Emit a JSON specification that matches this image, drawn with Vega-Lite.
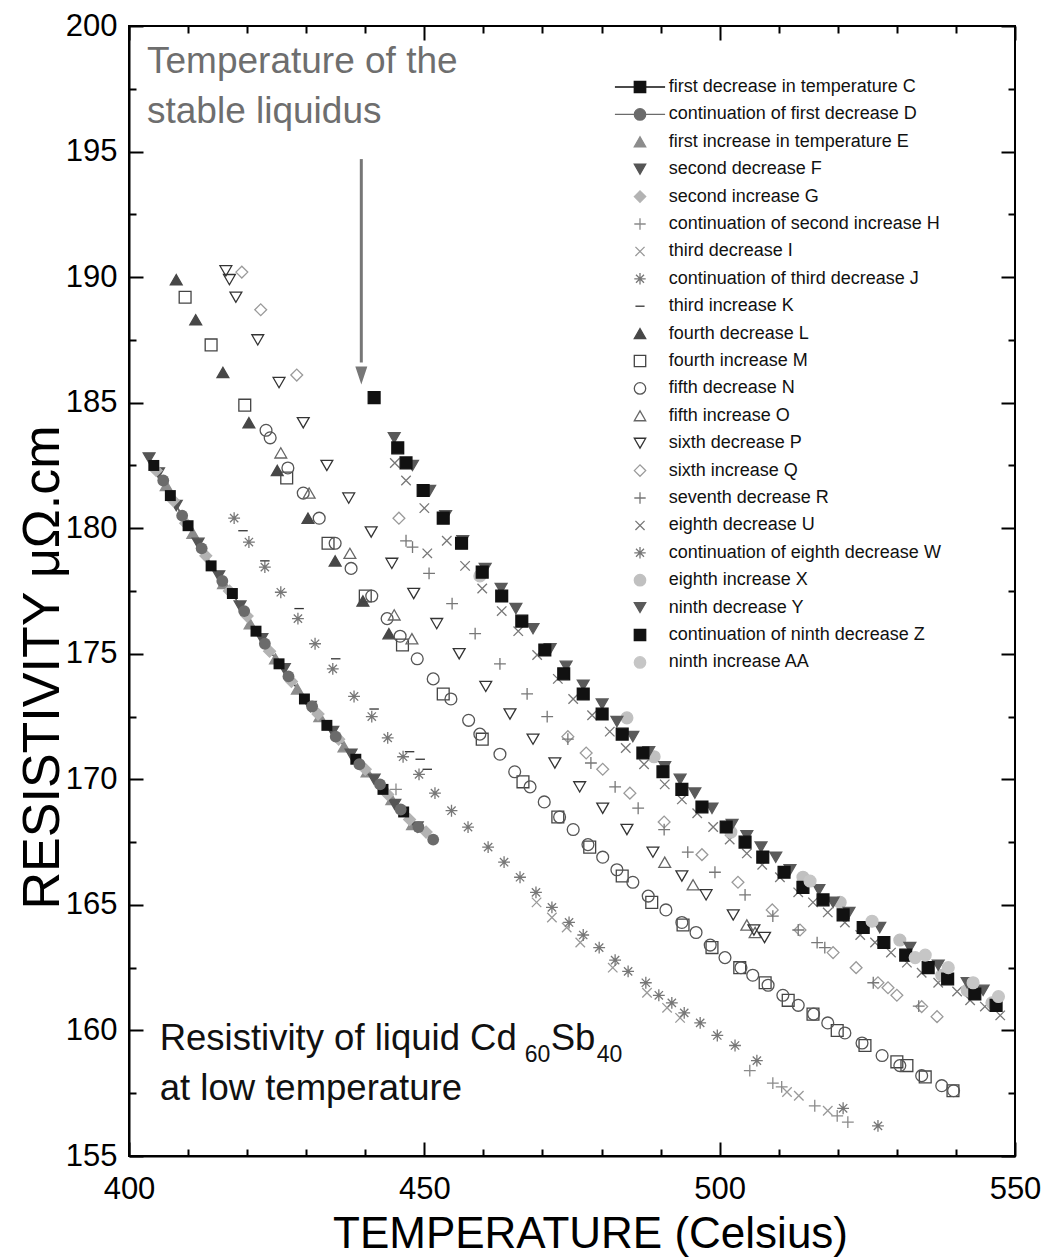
{
 "$schema": "https://vega.github.io/schema/vega-lite/v6.json",
 "width": 886, "height": 1130,
 "autosize": {"type": "none"},
 "padding": {"left": 129, "top": 26, "right": 32, "bottom": 104},
 "background": "white",
 "config": {"view": {"stroke": "#000", "strokeWidth": 2}, "font": "Liberation Sans"},
 "data": {"values": [
  {"s":"C","x":404.2,"y":182.5},{"s":"C","x":407.0,"y":181.3},{"s":"C","x":410.0,"y":180.1},{"s":"C","x":413.9,"y":178.5},{"s":"C","x":417.5,"y":177.4},{"s":"C","x":421.5,"y":175.9},{"s":"C","x":425.4,"y":174.6},{"s":"C","x":429.7,"y":173.2},{"s":"C","x":433.5,"y":172.15},{"s":"C","x":438.4,"y":170.8},{"s":"C","x":443.0,"y":169.6},{"s":"C","x":446.5,"y":168.7},
  {"s":"D","x":405.8,"y":181.9},{"s":"D","x":409.0,"y":180.5},{"s":"D","x":412.3,"y":179.2},{"s":"D","x":415.8,"y":177.9},{"s":"D","x":419.5,"y":176.7},{"s":"D","x":423.0,"y":175.4},{"s":"D","x":427.0,"y":174.1},{"s":"D","x":431.0,"y":172.9},{"s":"D","x":435.0,"y":171.7},{"s":"D","x":439.0,"y":170.6},{"s":"D","x":442.5,"y":169.8},{"s":"D","x":446.0,"y":168.8},{"s":"D","x":449.0,"y":168.1},{"s":"D","x":451.5,"y":167.6},
  {"s":"E","x":406.3,"y":181.7},{"s":"E","x":410.8,"y":179.8},{"s":"E","x":416.0,"y":177.8},{"s":"E","x":420.5,"y":176.2},{"s":"E","x":424.8,"y":174.8},{"s":"E","x":428.5,"y":173.6},{"s":"E","x":432.3,"y":172.5},{"s":"E","x":436.4,"y":171.3},{"s":"E","x":440.3,"y":170.3},{"s":"E","x":444.5,"y":169.2},{"s":"E","x":448.0,"y":168.2},
  {"s":"F","x":403.4,"y":182.8},{"s":"F","x":405.0,"y":182.2},{"s":"F","x":408.0,"y":180.9},{"s":"F","x":411.7,"y":179.4},{"s":"F","x":415.2,"y":178.1},{"s":"F","x":418.8,"y":176.9},{"s":"F","x":422.5,"y":175.6},{"s":"F","x":426.3,"y":174.4},{"s":"F","x":430.7,"y":172.9},{"s":"F","x":434.5,"y":171.9},{"s":"F","x":437.6,"y":171.0},{"s":"F","x":441.5,"y":170.0},{"s":"F","x":445.0,"y":169.0},{"s":"F","x":448.8,"y":168.1},
  {"s":"G","x":404.6,"y":182.3},{"s":"G","x":407.5,"y":181.1},{"s":"G","x":409.6,"y":180.2},{"s":"G","x":413.0,"y":178.9},{"s":"G","x":417.0,"y":177.5},{"s":"G","x":420.0,"y":176.5},{"s":"G","x":423.8,"y":175.1},{"s":"G","x":427.5,"y":173.9},{"s":"G","x":432.0,"y":172.6},{"s":"G","x":435.5,"y":171.6},{"s":"G","x":440.0,"y":170.4},{"s":"G","x":443.8,"y":169.4},{"s":"G","x":447.5,"y":168.4},{"s":"G","x":450.3,"y":167.9},
  {"s":"H","x":445.2,"y":169.6},{"s":"H","x":505.1,"y":158.4},{"s":"H","x":509.0,"y":157.9},{"s":"H","x":510.5,"y":157.75},{"s":"H","x":516.1,"y":157.0},{"s":"H","x":519.9,"y":156.6},{"s":"H","x":521.7,"y":156.35},
  {"s":"I","x":469.0,"y":165.1},{"s":"I","x":471.6,"y":164.5},{"s":"I","x":474.1,"y":164.1},{"s":"I","x":476.4,"y":163.5},{"s":"I","x":481.9,"y":162.5},{"s":"I","x":487.7,"y":161.5},{"s":"I","x":491.1,"y":160.9},{"s":"I","x":493.3,"y":160.5},{"s":"I","x":511.4,"y":157.55},{"s":"I","x":513.4,"y":157.4},{"s":"I","x":518.3,"y":156.8},
  {"s":"J","x":417.8,"y":180.4},{"s":"J","x":420.3,"y":179.45},{"s":"J","x":423.0,"y":178.45},{"s":"J","x":425.7,"y":177.45},{"s":"J","x":428.6,"y":176.4},{"s":"J","x":431.5,"y":175.4},{"s":"J","x":434.5,"y":174.4},{"s":"J","x":438.1,"y":173.3},{"s":"J","x":441.1,"y":172.5},{"s":"J","x":443.8,"y":171.65},{"s":"J","x":446.4,"y":170.9},{"s":"J","x":449.1,"y":170.2},{"s":"J","x":451.8,"y":169.45},{"s":"J","x":454.6,"y":168.75},{"s":"J","x":457.4,"y":168.1},
  {"s":"K","x":419.3,"y":179.9},{"s":"K","x":423.0,"y":178.7},{"s":"K","x":428.8,"y":176.8},{"s":"K","x":435.0,"y":174.8},{"s":"K","x":441.5,"y":172.8},{"s":"K","x":447.5,"y":171.1},{"s":"K","x":449.3,"y":170.8},{"s":"K","x":450.5,"y":170.4},
  {"s":"L","x":408.0,"y":189.9},{"s":"L","x":411.3,"y":188.3},{"s":"L","x":415.9,"y":186.2},{"s":"L","x":420.3,"y":184.2},{"s":"L","x":425.1,"y":182.3},{"s":"L","x":430.3,"y":180.4},{"s":"L","x":434.9,"y":178.7},{"s":"L","x":439.6,"y":177.1},{"s":"L","x":444.0,"y":175.8},
  {"s":"M","x":409.5,"y":189.2},{"s":"M","x":413.9,"y":187.3},{"s":"M","x":419.6,"y":184.9},{"s":"M","x":426.7,"y":182.0},{"s":"M","x":433.7,"y":179.4},{"s":"M","x":440.0,"y":177.3},{"s":"M","x":446.3,"y":175.35},{"s":"M","x":453.2,"y":173.4},{"s":"M","x":459.8,"y":171.6},{"s":"M","x":466.7,"y":169.9},{"s":"M","x":472.6,"y":168.5},{"s":"M","x":478.0,"y":167.3},{"s":"M","x":483.5,"y":166.15},{"s":"M","x":488.5,"y":165.1},{"s":"M","x":493.8,"y":164.2},{"s":"M","x":498.7,"y":163.3},{"s":"M","x":503.4,"y":162.5},{"s":"M","x":507.7,"y":161.9},{"s":"M","x":511.6,"y":161.2},{"s":"M","x":515.8,"y":160.65},{"s":"M","x":519.9,"y":160.0},{"s":"M","x":524.6,"y":159.4},{"s":"M","x":530.0,"y":158.75},{"s":"M","x":531.7,"y":158.6},{"s":"M","x":534.8,"y":158.15},{"s":"M","x":539.5,"y":157.6},
  {"s":"N","x":423.2,"y":183.9},{"s":"N","x":423.9,"y":183.6},{"s":"N","x":426.9,"y":182.4},{"s":"N","x":429.5,"y":181.4},{"s":"N","x":432.2,"y":180.4},{"s":"N","x":434.9,"y":179.4},{"s":"N","x":437.6,"y":178.4},{"s":"N","x":441.1,"y":177.3},{"s":"N","x":443.7,"y":176.4},{"s":"N","x":445.9,"y":175.7},{"s":"N","x":448.8,"y":174.8},{"s":"N","x":451.5,"y":174.0},{"s":"N","x":454.5,"y":173.2},{"s":"N","x":457.5,"y":172.35},{"s":"N","x":459.4,"y":171.8},{"s":"N","x":462.8,"y":171.0},{"s":"N","x":465.3,"y":170.3},{"s":"N","x":467.9,"y":169.7},{"s":"N","x":470.3,"y":169.1},{"s":"N","x":472.9,"y":168.5},{"s":"N","x":475.2,"y":168.0},{"s":"N","x":477.7,"y":167.4},{"s":"N","x":480.2,"y":166.9},{"s":"N","x":482.6,"y":166.4},{"s":"N","x":485.3,"y":165.9},{"s":"N","x":487.9,"y":165.35},{"s":"N","x":490.9,"y":164.8},{"s":"N","x":493.6,"y":164.3},{"s":"N","x":496.0,"y":163.9},{"s":"N","x":498.4,"y":163.4},{"s":"N","x":500.9,"y":162.9},{"s":"N","x":503.6,"y":162.5},{"s":"N","x":505.6,"y":162.2},{"s":"N","x":508.2,"y":161.8},{"s":"N","x":510.7,"y":161.4},{"s":"N","x":513.3,"y":161.0},{"s":"N","x":515.9,"y":160.65},{"s":"N","x":518.3,"y":160.3},{"s":"N","x":521.2,"y":159.9},{"s":"N","x":524.1,"y":159.5},{"s":"N","x":527.5,"y":159.0},{"s":"N","x":530.5,"y":158.6},{"s":"N","x":534.2,"y":158.2},{"s":"N","x":537.6,"y":157.8},{"s":"N","x":539.6,"y":157.6},
  {"s":"O","x":425.7,"y":183.0},{"s":"O","x":430.5,"y":181.4},{"s":"O","x":437.4,"y":179.0},{"s":"O","x":444.9,"y":176.55},{"s":"O","x":447.9,"y":175.6},{"s":"O","x":490.7,"y":166.7},{"s":"O","x":495.5,"y":165.8},{"s":"O","x":504.6,"y":164.2},{"s":"O","x":506.0,"y":163.9},
  {"s":"P","x":416.4,"y":190.25},{"s":"P","x":417.0,"y":189.9},{"s":"P","x":418.1,"y":189.2},{"s":"P","x":421.8,"y":187.5},{"s":"P","x":425.4,"y":185.8},{"s":"P","x":429.5,"y":184.2},{"s":"P","x":433.5,"y":182.5},{"s":"P","x":437.2,"y":181.2},{"s":"P","x":441.0,"y":179.85},{"s":"P","x":444.5,"y":178.6},{"s":"P","x":448.2,"y":177.4},{"s":"P","x":452.1,"y":176.2},{"s":"P","x":455.9,"y":175.0},{"s":"P","x":460.4,"y":173.7},{"s":"P","x":464.5,"y":172.6},{"s":"P","x":468.4,"y":171.6},{"s":"P","x":472.1,"y":170.65},{"s":"P","x":476.3,"y":169.7},{"s":"P","x":480.2,"y":168.85},{"s":"P","x":484.3,"y":168.0},{"s":"P","x":488.7,"y":167.1},{"s":"P","x":493.6,"y":166.15},{"s":"P","x":497.7,"y":165.4},{"s":"P","x":502.3,"y":164.6},{"s":"P","x":505.8,"y":164.0},{"s":"P","x":507.6,"y":163.7},
  {"s":"Q","x":419.1,"y":190.2},{"s":"Q","x":422.3,"y":188.7},{"s":"Q","x":428.4,"y":186.1},{"s":"Q","x":445.7,"y":180.4},{"s":"Q","x":474.3,"y":171.7},{"s":"Q","x":477.4,"y":171.05},{"s":"Q","x":480.2,"y":170.4},{"s":"Q","x":484.8,"y":169.45},{"s":"Q","x":490.6,"y":168.3},{"s":"Q","x":497.0,"y":167.0},{"s":"Q","x":503.1,"y":165.9},{"s":"Q","x":508.9,"y":164.8},{"s":"Q","x":513.6,"y":164.0},{"s":"Q","x":519.2,"y":163.1},{"s":"Q","x":523.1,"y":162.5},{"s":"Q","x":526.8,"y":161.9},{"s":"Q","x":528.5,"y":161.7},{"s":"Q","x":530.0,"y":161.4},{"s":"Q","x":534.2,"y":160.95},{"s":"Q","x":536.8,"y":160.55},
  {"s":"R","x":446.9,"y":179.5},{"s":"R","x":448.0,"y":179.25},{"s":"R","x":450.8,"y":178.2},{"s":"R","x":454.7,"y":177.0},{"s":"R","x":458.6,"y":175.8},{"s":"R","x":462.8,"y":174.6},{"s":"R","x":467.4,"y":173.4},{"s":"R","x":470.8,"y":172.5},{"s":"R","x":474.3,"y":171.6},{"s":"R","x":478.2,"y":170.65},{"s":"R","x":482.3,"y":169.7},{"s":"R","x":486.2,"y":168.85},{"s":"R","x":490.6,"y":168.0},{"s":"R","x":494.6,"y":167.1},{"s":"R","x":499.2,"y":166.3},{"s":"R","x":504.3,"y":165.4},{"s":"R","x":509.0,"y":164.55},{"s":"R","x":513.3,"y":164.0},{"s":"R","x":516.5,"y":163.5},{"s":"R","x":517.8,"y":163.3},{"s":"R","x":526.0,"y":161.9},{"s":"R","x":533.7,"y":160.97},
  {"s":"U","x":445.0,"y":182.6},{"s":"U","x":446.9,"y":181.9},{"s":"U","x":450.0,"y":180.8},{"s":"U","x":453.8,"y":179.5},{"s":"U","x":450.5,"y":179.0},{"s":"U","x":456.9,"y":178.5},{"s":"U","x":459.8,"y":177.6},{"s":"U","x":463.1,"y":176.7},{"s":"U","x":465.9,"y":175.9},{"s":"U","x":469.1,"y":174.95},{"s":"U","x":472.6,"y":174.0},{"s":"U","x":475.2,"y":173.2},{"s":"U","x":478.4,"y":172.55},{"s":"U","x":481.4,"y":171.9},{"s":"U","x":484.1,"y":171.25},{"s":"U","x":487.2,"y":170.6},{"s":"U","x":490.7,"y":169.8},{"s":"U","x":493.6,"y":169.2},{"s":"U","x":496.2,"y":168.65},{"s":"U","x":498.9,"y":168.1},{"s":"U","x":501.7,"y":167.6},{"s":"U","x":504.6,"y":167.05},{"s":"U","x":507.2,"y":166.6},{"s":"U","x":510.2,"y":166.1},{"s":"U","x":513.3,"y":165.5},{"s":"U","x":515.8,"y":165.1},{"s":"U","x":518.3,"y":164.7},{"s":"U","x":521.2,"y":164.3},{"s":"U","x":523.8,"y":163.8},{"s":"U","x":526.3,"y":163.5},{"s":"U","x":529.0,"y":163.1},{"s":"U","x":531.7,"y":162.7},{"s":"U","x":534.2,"y":162.3},{"s":"U","x":537.0,"y":161.9},{"s":"U","x":540.2,"y":161.55},{"s":"U","x":542.4,"y":161.2},{"s":"U","x":544.9,"y":160.95},{"s":"U","x":547.5,"y":160.6},
  {"s":"W","x":460.8,"y":167.3},{"s":"W","x":463.5,"y":166.7},{"s":"W","x":466.2,"y":166.1},{"s":"W","x":468.9,"y":165.5},{"s":"W","x":471.6,"y":164.9},{"s":"W","x":474.5,"y":164.3},{"s":"W","x":476.9,"y":163.8},{"s":"W","x":479.6,"y":163.3},{"s":"W","x":482.3,"y":162.8},{"s":"W","x":484.5,"y":162.35},{"s":"W","x":487.5,"y":161.9},{"s":"W","x":489.7,"y":161.4},{"s":"W","x":491.9,"y":161.1},{"s":"W","x":494.0,"y":160.7},{"s":"W","x":496.7,"y":160.3},{"s":"W","x":499.6,"y":159.8},{"s":"W","x":502.6,"y":159.4},{"s":"W","x":506.3,"y":158.8},{"s":"W","x":520.9,"y":156.9},{"s":"W","x":526.8,"y":156.2},
  {"s":"X","x":459.4,"y":178.1},{"s":"X","x":484.3,"y":172.45},{"s":"X","x":488.9,"y":170.9},{"s":"X","x":501.9,"y":167.9},{"s":"X","x":514.1,"y":166.1},{"s":"X","x":520.4,"y":165.1},{"s":"X","x":530.5,"y":163.6},{"s":"X","x":537.6,"y":162.2},{"s":"X","x":541.9,"y":161.6},{"s":"X","x":546.1,"y":161.1},
  {"s":"Y","x":444.9,"y":183.6},{"s":"Y","x":448.0,"y":182.5},{"s":"Y","x":450.9,"y":181.5},{"s":"Y","x":453.6,"y":180.5},{"s":"Y","x":456.5,"y":179.5},{"s":"Y","x":460.3,"y":178.4},{"s":"Y","x":463.0,"y":177.6},{"s":"Y","x":465.5,"y":176.8},{"s":"Y","x":468.4,"y":176.0},{"s":"Y","x":471.3,"y":175.2},{"s":"Y","x":474.0,"y":174.5},{"s":"Y","x":476.9,"y":173.75},{"s":"Y","x":480.1,"y":173.0},{"s":"Y","x":482.6,"y":172.3},{"s":"Y","x":485.3,"y":171.7},{"s":"Y","x":488.0,"y":171.1},{"s":"Y","x":490.7,"y":170.5},{"s":"Y","x":493.3,"y":170.0},{"s":"Y","x":495.8,"y":169.45},{"s":"Y","x":498.7,"y":168.85},{"s":"Y","x":502.1,"y":168.2},{"s":"Y","x":504.6,"y":167.75},{"s":"Y","x":507.0,"y":167.3},{"s":"Y","x":509.5,"y":166.9},{"s":"Y","x":511.9,"y":166.4},{"s":"Y","x":516.8,"y":165.6},{"s":"Y","x":519.2,"y":165.1},{"s":"Y","x":521.9,"y":164.7},{"s":"Y","x":527.1,"y":164.1},{"s":"Y","x":532.2,"y":163.3},{"s":"Y","x":537.0,"y":162.6},{"s":"Y","x":541.9,"y":161.9},{"s":"Y","x":544.6,"y":161.6},
  {"s":"Z","x":441.5,"y":185.2},{"s":"Z","x":445.5,"y":183.2},{"s":"Z","x":446.9,"y":182.6},{"s":"Z","x":449.8,"y":181.5},{"s":"Z","x":453.2,"y":180.4},{"s":"Z","x":456.3,"y":179.4},{"s":"Z","x":459.8,"y":178.25},{"s":"Z","x":463.1,"y":177.3},{"s":"Z","x":466.5,"y":176.3},{"s":"Z","x":470.4,"y":175.15},{"s":"Z","x":473.6,"y":174.2},{"s":"Z","x":476.9,"y":173.4},{"s":"Z","x":480.1,"y":172.6},{"s":"Z","x":483.5,"y":171.8},{"s":"Z","x":487.0,"y":171.05},{"s":"Z","x":490.4,"y":170.3},{"s":"Z","x":493.6,"y":169.6},{"s":"Z","x":497.0,"y":168.9},{"s":"Z","x":501.1,"y":168.1},{"s":"Z","x":504.3,"y":167.5},{"s":"Z","x":507.3,"y":166.9},{"s":"Z","x":510.9,"y":166.3},{"s":"Z","x":514.1,"y":165.7},{"s":"Z","x":517.5,"y":165.2},{"s":"Z","x":520.9,"y":164.6},{"s":"Z","x":524.3,"y":164.1},{"s":"Z","x":527.8,"y":163.5},{"s":"Z","x":531.5,"y":163.0},{"s":"Z","x":535.3,"y":162.5},{"s":"Z","x":538.6,"y":162.05},{"s":"Z","x":543.2,"y":161.45},{"s":"Z","x":546.8,"y":161.0},
  {"s":"AA","x":515.3,"y":165.95},{"s":"AA","x":525.8,"y":164.35},{"s":"AA","x":533.1,"y":162.9},{"s":"AA","x":534.8,"y":163.0},{"s":"AA","x":538.7,"y":162.5},{"s":"AA","x":542.9,"y":161.9},{"s":"AA","x":547.2,"y":161.35}
 ]},
 "layer": [
  {
   "transform": [{"filter": "datum.s === 'C'"}],
   "mark": {"type": "line", "color": "#111", "strokeWidth": 1.2},
   "encoding": {
    "x": {"field": "x", "type": "quantitative", "scale": {"domain": [400, 550], "nice": false, "zero": false}, "axis": null},
    "y": {"field": "y", "type": "quantitative", "scale": {"domain": [155, 200], "nice": false, "zero": false}, "axis": null}
   }
  },
  {
   "transform": [{"filter": "datum.s === 'D'"}],
   "mark": {"type": "line", "color": "#777", "strokeWidth": 1.2},
   "encoding": {
    "x": {"field": "x", "type": "quantitative", "scale": {"domain": [400, 550], "nice": false, "zero": false}, "axis": null},
    "y": {"field": "y", "type": "quantitative", "scale": {"domain": [155, 200], "nice": false, "zero": false}, "axis": null}
   }
  },
  {
   "transform": [{"filter": "datum.s !== 'C' && datum.s !== 'D'"}],
   "mark": {"type": "point", "size": 140, "strokeWidth": 1.3, "opacity": 1},
   "encoding": {
    "x": {"field": "x", "type": "quantitative", "scale": {"domain": [400, 550], "nice": false, "zero": false},
     "axis": {"orient": "bottom", "values": [400,410,420,430,440,450,460,470,480,490,500,510,520,530,540,550],
      "labelExpr": "datum.value % 50 === 0 ? datum.label : ''",
      "tickSize": {"condition": {"test": "datum.value % 50 === 0", "value": -14}, "value": -7},
      "tickWidth": 2, "tickColor": "#000", "domainColor": "#000", "domainWidth": 2,
      "labelFontSize": 31, "labelFont": "Liberation Sans", "labelColor": "#000", "labelPadding": 32,
      "labelFlush": false, "labelOverlap": false, "grid": false,
      "title": "TEMPERATURE (Celsius)", "titleFontSize": 44, "titleFont": "Liberation Sans", "titleFontWeight": "normal", "titleColor": "#000",
      "titleBaseline": "alphabetic", "titleY": 91, "titleX": 461}},
    "y": {"field": "y", "type": "quantitative", "scale": {"domain": [155, 200], "nice": false, "zero": false},
     "axis": {"orient": "left", "values": [155,157.5,160,162.5,165,167.5,170,172.5,175,177.5,180,182.5,185,187.5,190,192.5,195,197.5,200],
      "labelExpr": "datum.value % 5 === 0 ? datum.label : ''",
      "tickSize": {"condition": {"test": "datum.value % 5 === 0", "value": -14}, "value": -7},
      "tickWidth": 2, "tickColor": "#000", "domainColor": "#000", "domainWidth": 2,
      "labelFontSize": 31, "labelFont": "Liberation Sans", "labelColor": "#000", "labelPadding": 26,
      "labelFlush": false, "labelOverlap": false, "grid": false,
      "title": "RESISTIVITY μΩ.cm", "titleFontSize": 52, "titleFont": "Liberation Sans", "titleFontWeight": "normal", "titleColor": "#000",
      "titleBaseline": "alphabetic", "titleX": -71, "titleY": 641}},
    "shape": {"field": "s", "type": "nominal",
     "scale": {"domain": ["C","D","E","F","G","H","I","J","K","L","M","N","O","P","Q","R","U","W","X","Y","Z","AA"],
      "range": ["M-4.4,0H-1M1,0H4.4M-1,-1H1V1H-1Z", "M-4.4,0H-1M1,0H4.4M-1,0A1,1,0,1,1,1,0A1,1,0,1,1,-1,0Z", "triangle-up", "triangle-down", "diamond", "M-1,0H1M0,-1V1", "M-0.8,-0.8L0.8,0.8M-0.8,0.8L0.8,-0.8", "M-1,0H1M0,-1V1M-0.7,-0.7L0.7,0.7M-0.7,0.7L0.7,-0.7", "M-0.8,0H0.8", "triangle-up", "square", "circle", "triangle-up", "triangle-down", "diamond", "M-1,0H1M0,-1V1", "M-0.8,-0.8L0.8,0.8M-0.8,0.8L0.8,-0.8", "M-1,0H1M0,-1V1M-0.7,-0.7L0.7,0.7M-0.7,0.7L0.7,-0.7", "circle", "triangle-down", "square", "circle"]},
     "legend": {"orient": "none", "legendX": 502, "legendY": 52, "title": null, "padding": 0, "rowPadding": 9.4,
      "symbolSize": 130, "symbolStrokeWidth": 1.3, "labelOffset": 19.7, "labelFontSize": 18, "labelFont": "Liberation Sans", "labelColor": "#111", "labelLimit": 500,
      "labelExpr": "{'C':'first decrease in temperature C','D':'continuation of first decrease D','E':'first increase in temperature E','F':'second decrease F','G':'second increase G','H':'continuation of second increase H','I':'third decrease I','J':'continuation of third decrease J','K':'\u00a0third increase K','L':'fourth decrease L','M':'fourth increase M','N':'fifth decrease N','O':'fifth increase O','P':'sixth decrease P','Q':'sixth increase Q','R':'seventh decrease R','U':'eighth decrease U','W':'continuation of eighth decrease W','X':'eighth increase X','Y':'ninth decrease Y','Z':'\u00a0continuation of ninth decrease Z','AA':'ninth increase AA'}[datum.label]"}},
    "fill": {"field": "s", "type": "nominal",
     "scale": {"domain": ["C","D","E","F","G","H","I","J","K","L","M","N","O","P","Q","R","U","W","X","Y","Z","AA"],
      "range": ["#111111","#6b6b6b","#8c8c8c","#555555","#b3b3b3","transparent","transparent","transparent","transparent","#474747","transparent","transparent","transparent","transparent","transparent","transparent","transparent","transparent","#c0c0c0","#5a5a5a","#111111","#c6c6c6"]}},
    "stroke": {"field": "s", "type": "nominal",
     "scale": {"domain": ["C","D","E","F","G","H","I","J","K","L","M","N","O","P","Q","R","U","W","X","Y","Z","AA"],
      "range": ["#111111","#6b6b6b","#8c8c8c","#555555","#b3b3b3","#8a8a8a","#999999","#777777","#333333","#474747","#444444","#555555","#666666","#333333","#9a9a9a","#777777","#777777","#777777","#c0c0c0","#5a5a5a","#111111","#c6c6c6"]}}
   }
  },
  {
   "transform": [{"filter": "datum.s === 'C'"}],
   "mark": {"type": "point", "shape": "square", "size": 120, "filled": true, "color": "#111", "opacity": 1},
   "encoding": {
    "x": {"field": "x", "type": "quantitative", "scale": {"domain": [400, 550], "nice": false, "zero": false}, "axis": null},
    "y": {"field": "y", "type": "quantitative", "scale": {"domain": [155, 200], "nice": false, "zero": false}, "axis": null}
   }
  },
  {
   "transform": [{"filter": "datum.s === 'D'"}],
   "mark": {"type": "point", "shape": "circle", "size": 140, "filled": true, "color": "#6b6b6b", "opacity": 1},
   "encoding": {
    "x": {"field": "x", "type": "quantitative", "scale": {"domain": [400, 550], "nice": false, "zero": false}, "axis": null},
    "y": {"field": "y", "type": "quantitative", "scale": {"domain": [155, 200], "nice": false, "zero": false}, "axis": null}
   }
  },
  {
   "data": {"values": [{"x": 439.33, "y": 194.7, "y2": 186.6}]},
   "mark": {"type": "rule", "color": "#777", "strokeWidth": 3},
   "encoding": {
    "x": {"field": "x", "type": "quantitative", "scale": {"domain": [400, 550], "nice": false, "zero": false},
     "axis": {"orient": "top", "values": [400,410,420,430,440,450,460,470,480,490,500,510,520,530,540,550], "labels": false, "domain": false, "grid": false, "title": null,
      "tickSize": {"condition": {"test": "datum.value % 50 === 0", "value": -14}, "value": -7}, "tickWidth": 2, "tickColor": "#000"}},
    "y": {"field": "y", "type": "quantitative", "scale": {"domain": [155, 200], "nice": false, "zero": false},
     "axis": {"orient": "right", "values": [155,157.5,160,162.5,165,167.5,170,172.5,175,177.5,180,182.5,185,187.5,190,192.5,195,197.5,200], "labels": false, "domain": false, "grid": false, "title": null,
      "tickSize": {"condition": {"test": "datum.value % 5 === 0", "value": -14}, "value": -7}, "tickWidth": 2, "tickColor": "#000"}},
    "y2": {"field": "y2"}
   }
  },
  {
   "data": {"values": [{"x": 439.33, "y": 186.08}]},
   "mark": {"type": "point", "shape": "M-1,-1.5L1,-1.5L0,1.5Z", "size": 144, "filled": true, "color": "#777", "opacity": 1},
   "encoding": {
    "x": {"field": "x", "type": "quantitative", "scale": {"domain": [400, 550], "nice": false, "zero": false}, "axis": null},
    "y": {"field": "y", "type": "quantitative", "scale": {"domain": [155, 200], "nice": false, "zero": false}, "axis": null}
   }
  },
  {
   "data": {"values": [{"x": 403.05, "y": 198.13, "t": "Temperature of the"}, {"x": 403.05, "y": 196.14, "t": "stable liquidus"}]},
   "mark": {"type": "text", "align": "left", "baseline": "alphabetic", "fontSize": 37, "font": "Liberation Sans", "color": "#6e6e6e"},
   "encoding": {
    "x": {"field": "x", "type": "quantitative", "scale": {"domain": [400, 550], "nice": false, "zero": false}, "axis": null},
    "y": {"field": "y", "type": "quantitative", "scale": {"domain": [155, 200], "nice": false, "zero": false}, "axis": null},
    "text": {"field": "t"}
   }
  },
  {
   "data": {"values": [{"x": 405.2, "y": 159.22, "t": "Resistivity of liquid Cd"}, {"x": 405.2, "y": 157.23, "t": "at low temperature"}, {"x": 471.4, "y": 159.22, "t": "Sb"}]},
   "mark": {"type": "text", "align": "left", "baseline": "alphabetic", "fontSize": 36.5, "font": "Liberation Sans", "color": "#111"},
   "encoding": {
    "x": {"field": "x", "type": "quantitative", "scale": {"domain": [400, 550], "nice": false, "zero": false}, "axis": null},
    "y": {"field": "y", "type": "quantitative", "scale": {"domain": [155, 200], "nice": false, "zero": false}, "axis": null},
    "text": {"field": "t"}
   }
  },
  {
   "data": {"values": [{"x": 467.0, "y": 158.74, "t": "60"}, {"x": 479.2, "y": 158.74, "t": "40"}]},
   "mark": {"type": "text", "align": "left", "baseline": "alphabetic", "fontSize": 23, "font": "Liberation Sans", "color": "#111"},
   "encoding": {
    "x": {"field": "x", "type": "quantitative", "scale": {"domain": [400, 550], "nice": false, "zero": false}, "axis": null},
    "y": {"field": "y", "type": "quantitative", "scale": {"domain": [155, 200], "nice": false, "zero": false}, "axis": null},
    "text": {"field": "t"}
   }
  }
 ],
 "resolve": {"axis": {"x": "independent", "y": "independent"}}
}
